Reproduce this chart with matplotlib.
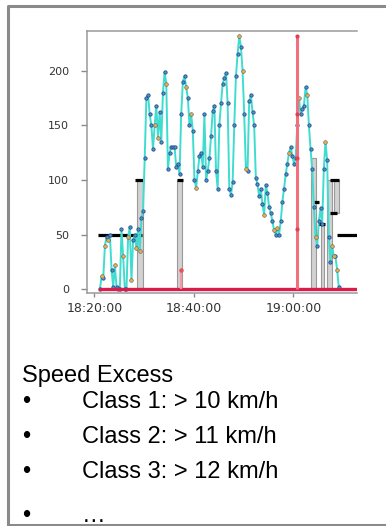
import matplotlib

matplotlib.use("Agg")
import matplotlib.dates as mdates
import matplotlib.pyplot as plt
import pandas as pd
from matplotlib import font_manager
from matplotlib.lines import Line2D

DAY = "2020-01-01 "

# speed samples, every 20 s from the first one
speed_start = "18:21:08"
speed_step_s = 20
speed = [
    0, 12, 10, 40, 48, 45, 50, 18, 2, 22,
    2, 0, 0, 55, 30, 0, 0, 48, 57, 8,
    45, 50, 38, 55, 35, 65, 72, 120, 175, 178,
    160, 150, 128, 150, 168, 138, 162, 135, 180, 199,
    188, 110, 125, 130, 130, 130, 112, 115, 105, 160,
    190, 195, 185, 175, 150, 160, 145, 100, 93, 108,
    122, 125, 112, 160, 100, 108, 120, 140, 163, 168,
    108, 92, 150, 170, 188, 193, 198, 170, 92, 86,
    98, 150, 195, 215, 232, 222, 200, 160, 110, 108,
    172, 178, 162, 150, 102, 96, 85, 92, 78, 68,
    95, 88, 75, 70, 62, 54, 50, 56, 50, 62,
    80, 92, 105, 115, 125, 130, 122, 115, 120, 150,
    175, 160, 165, 168, 185, 178, 150, 128, 110, 75,
    48, 40, 62, 74, 60, 110, 135, 118, 48, 25,
    40, 30, 30, 18, 2,
]
# samples flagged in orange
flagged = [1, 3, 5, 9, 14, 17, 19, 22, 24, 33, 35, 40, 52, 55, 58,
           84, 86, 88, 99, 105, 107, 114, 120, 125, 130, 136, 140, 141, 143]

# speed limit segments
limit_value = [50, 100, 100, 80, 60, 100, 70, 50]
limit_start = ["18:20:44", "18:28:11", "18:36:41", "19:04:06", "19:04:58",
               "19:07:26", "19:07:26", "19:08:47"]
limit_end = ["18:29:35", "18:29:51", "18:37:46", "19:05:06", "19:06:26",
             "19:09:08", "19:08:47", "19:14:00"]

# limit changes (grey bars)
change_center = ["18:29:11", "18:37:08", "19:04:05", "19:05:54", "19:07:16", "19:08:37"]
change_width_s = [72, 60, 56, 32, 60, 60]
change_low = [0, 0, 0, 0, 0, 70]
change_high = [100, 100, 120, 60, 100, 100]

# speed excess
excess_start = "18:21:08"
excess_end = "19:14:00"
spike_time = ["18:37:22", "19:00:50"]
spike_value = [18, 232]
spike_marks = [232, 160, 120, 55]

x_ticks = ["18:20:00", "18:40:00", "19:00:00"]
y_ticks = [0, 50, 100, 150, 200]
x_range = ["18:18:32", "19:12:48"]
y_range = [-3, 236.3]

title = "Speed Excess"
classes = ["Class 1: > 10 km/h", "Class 2: > 11 km/h", "Class 3: > 12 km/h", "\u2026"]


def ts(s):
    return pd.Timestamp(DAY + s)


names = {f.name for f in font_manager.fontManager.ttflist}
if "Liberation Sans Narrow" in names:
    text_family = ["Liberation Sans Narrow", "Liberation Sans"]
    text_size = 20.9
else:
    text_family = ["Liberation Sans", "DejaVu Sans"]
    text_size = 17

fig = plt.figure(figsize=(3.86, 5.26), dpi=100)
fx, fy = 386, 526

# slide frame: left, top and bottom edges (right side is cropped away)
frame_x = [500 / fx, 8 / fx, 8 / fx, 500 / fx]
frame_y = [1 - 6 / fy, 1 - 6 / fy, 1 - 525 / fy, 1 - 525 / fy]
fig.lines.append(
    Line2D(frame_x, frame_y, transform=fig.transFigure, color="#8a8a8a", lw=2.2)
)

ax = fig.add_axes((87 / fx, 1 - 292.5 / fy, 270 / fx, 261.5 / fy))

t_speed = pd.date_range(ts(speed_start), periods=len(speed), freq=f"{speed_step_s}s")

# grey limit-change bars
for c, w, lo, hi in zip(change_center, change_width_s, change_low, change_high):
    left = ts(c) - pd.Timedelta(seconds=w / 2)
    ax.bar(left, hi - lo, bottom=lo, width=pd.Timedelta(seconds=w), align="edge",
           color="#d2d2d2", edgecolor="#9a9a9a", linewidth=0.8, zorder=1)

# limit segments
for v, a, b in zip(limit_value, limit_start, limit_end):
    ax.plot([ts(a), ts(b)], [v, v], color="black", lw=2.3, solid_capstyle="butt", zorder=2)

# speed
ax.plot(t_speed, speed, color="#40dccf", lw=1.4, zorder=3)
ax.plot(t_speed, speed, ls="none", marker="o", ms=2.4, mfc="#5a90c8", mec="#1d4f8c",
        mew=0.6, zorder=4)
ax.plot(t_speed[flagged], [speed[i] for i in flagged], ls="none", marker="o", ms=2.2,
        mfc="#eeb04a", mec="#d89a30", mew=0.4, zorder=5)

# speed excess
ax.plot([ts(excess_start), ts(excess_end)], [0, 0], color="#dc1a4c", lw=2.4, zorder=6)
ax.vlines([ts(t) for t in spike_time], 0, spike_value, colors=["#f49aa4", "#f0707e"],
          lw=[1.6, 2.2], zorder=6)
ax.plot([ts(spike_time[0])], [spike_value[0]], ls="none", marker="o", ms=2.2,
        color="#e8505e", zorder=7)
ax.plot([ts(spike_time[1])] * len(spike_marks), spike_marks, ls="none", marker="o", ms=2,
        color="#e04050", zorder=7)

ax.set_xlim(ts(x_range[0]), ts(x_range[1]))
ax.set_ylim(*y_range)
ax.set_xticks([ts(t) for t in x_ticks])
ax.xaxis.set_major_formatter(mdates.DateFormatter("%H:%M:%S"))
ax.set_yticks(y_ticks)

for side in ["left", "top", "bottom"]:
    ax.spines[side].set_color("#9a9a9a")
    ax.spines[side].set_linewidth(1.1)
ax.spines["right"].set_visible(False)
ax.tick_params(axis="y", length=4, width=1, color="#8a8a8a", pad=9,
               labelsize=8, labelcolor="#333333")
ax.tick_params(axis="x", length=3, width=1, color="#8a8a8a", pad=4,
               labelsize=9, labelcolor="#333333")

# slide text
fig.text(22 / fx, 1 - 382 / fy, title, family=text_family, fontsize=text_size,
         va="baseline", ha="left")
baselines = [408, 443, 478, 522]
for yb, label in zip(baselines, classes):
    fig.text(22 / fx, 1 - yb / fy, "\u2022", family=text_family, fontsize=text_size,
             va="baseline", ha="left")
    fig.text(82 / fx, 1 - yb / fy, label, family=text_family, fontsize=text_size,
             va="baseline", ha="left")

fig.savefig("out.png", dpi=100)
